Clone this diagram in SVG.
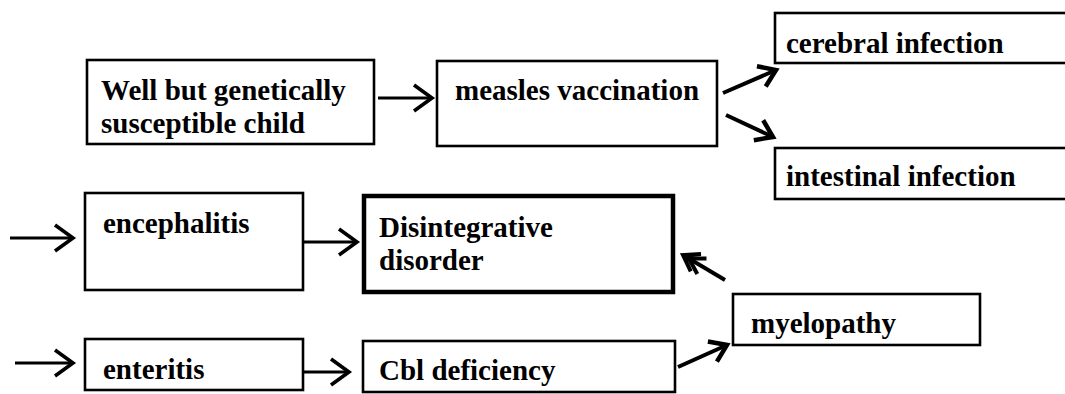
<svg xmlns="http://www.w3.org/2000/svg" width="1065" height="394" viewBox="0 0 1065 394">
<style>
.box{fill:#fff;stroke:#000;stroke-width:2.6}
.thick{fill:#fff;stroke:#000;stroke-width:4.5}
.lbl{font-family:"Liberation Serif","Times New Roman",serif;font-weight:bold;font-size:29px;fill:#000}
.conn{stroke:#000;stroke-width:3.2;fill:none;marker-end:url(#ah)}
.connd{stroke:#000;stroke-width:4;fill:none}
</style>
<defs>
<marker id="ah" markerUnits="userSpaceOnUse" markerWidth="30" markerHeight="36" viewBox="-24 -18 28 36" refX="0" refY="0" orient="auto" overflow="visible">
<path d="M-18,-13 L0,0 L-18,13" fill="none" stroke="#000" stroke-width="3.6" stroke-linejoin="miter"/>
</marker>
<marker id="ah2" markerUnits="userSpaceOnUse" markerWidth="30" markerHeight="36" viewBox="-24 -18 28 36" refX="0" refY="0" orient="auto" overflow="visible">
<path d="M-16,-11 L0,0 L-16,11" fill="none" stroke="#000" stroke-width="4.5"/>
</marker>
<marker id="ahdbl" markerUnits="userSpaceOnUse" markerWidth="30" markerHeight="36" viewBox="-24 -18 28 36" refX="0" refY="0" orient="auto" overflow="visible">
<path d="M-15,-10 L0,0 L-15,10 M-22,-9 L-7,0 L-22,9" fill="none" stroke="#000" stroke-width="4"/>
</marker>
</defs>
<rect width="1065" height="394" fill="#fff"/>
<g id="connectors">
<line class="conn" x1="378" y1="98" x2="432" y2="98"/>
<line class="connd" x1="723" y1="93" x2="776" y2="70" marker-end="url(#ah2)"/>
<line class="connd" x1="726" y1="115" x2="773" y2="137" marker-end="url(#ah2)"/>
<line class="conn" x1="10" y1="238" x2="73" y2="238"/>
<line class="conn" x1="303" y1="242" x2="357" y2="242"/>
<line class="conn" x1="15" y1="363" x2="73" y2="363"/>
<line class="conn" x1="303" y1="372" x2="349" y2="372"/>
<line class="connd" x1="678" y1="367" x2="727" y2="345" marker-end="url(#ah2)"/>
<line class="connd" x1="725" y1="280" x2="683" y2="255" marker-end="url(#ahdbl)"/>
</g>
<g id="well-child">
<rect class="box" x="87" y="60" width="287" height="84"/>
<text class="lbl" x="101" y="100">Well but genetically</text>
<text class="lbl" x="101" y="133">susceptible child</text>
</g>
<g id="measles-vaccination">
<rect class="box" x="437" y="61" width="280" height="85"/>
<text class="lbl" x="455" y="100">measles vaccination</text>
</g>
<g id="cerebral-infection">
<rect class="box" x="775" y="13" width="310" height="50"/>
<text class="lbl" x="786" y="53">cerebral infection</text>
</g>
<g id="intestinal-infection">
<rect class="box" x="775" y="148" width="310" height="51"/>
<text class="lbl" x="786" y="186">intestinal infection</text>
</g>
<g id="encephalitis">
<rect class="box" x="85" y="193" width="218" height="97"/>
<text class="lbl" x="103" y="233">encephalitis</text>
</g>
<g id="disintegrative-disorder">
<rect class="thick" x="364" y="196" width="309" height="96"/>
<text class="lbl" x="379" y="237">Disintegrative</text>
<text class="lbl" x="379" y="270">disorder</text>
</g>
<g id="enteritis">
<rect class="box" x="85" y="339" width="218" height="51"/>
<text class="lbl" x="103" y="379">enteritis</text>
</g>
<g id="cbl-deficiency">
<rect class="box" x="363" y="341" width="312" height="51"/>
<text class="lbl" x="379" y="380">Cbl deficiency</text>
</g>
<g id="myelopathy">
<rect class="box" x="733" y="294" width="247" height="51"/>
<text class="lbl" x="751" y="333">myelopathy</text>
</g>
</svg>
